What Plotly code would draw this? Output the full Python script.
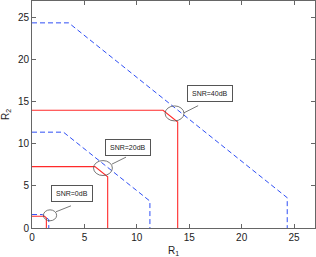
import plotly.graph_objects as go

# Capacity region boundaries (outer = dashed blue, inner = solid red)
snr0_outer_x = [0, 1.0, 1.6, 1.6]
snr0_outer_y = [1.6, 1.6, 1.0, 0]
snr0_inner_x = [0, 1.2, 1.37, 1.37]
snr0_inner_y = [1.4, 1.4, 1.2, 0]

snr20_outer_x = [0, 3.0, 11.25, 11.25]
snr20_outer_y = [11.4, 11.4, 3.2, 0]
snr20_inner_x = [0, 6.0, 7.22, 7.22]
snr20_inner_y = [7.3, 7.3, 6.1, 0]

snr40_outer_x = [0, 3.5, 24.35, 24.35]
snr40_outer_y = [24.4, 24.4, 3.6, 0]
snr40_inner_x = [0, 12.5, 13.9, 13.9]
snr40_inner_y = [14.0, 14.0, 12.6, 0]

labels = ["SNR=0dB", "SNR=20dB", "SNR=40dB"]
label_x = [3.8, 9.2, 17.0]
label_y = [4.05, 9.6, 16.0]
ell_cx = [1.72, 6.77, 13.6]
ell_cy = [1.51, 7.13, 13.63]
ell_rx = [0.63, 0.9, 0.9]
ell_ry = [0.65, 0.89, 0.89]
lead_x0 = [2.29, 7.63, 14.5]
lead_y0 = [1.93, 7.6, 13.7]
lead_x1 = [3.72, 8.97, 15.85]
lead_y1 = [2.64, 8.43, 14.55]

blue = "#2f4ff5"
red = "#ff2a2a"

fig = go.Figure()
for ox, oy, ix, iy in [
    (snr0_outer_x, snr0_outer_y, snr0_inner_x, snr0_inner_y),
    (snr20_outer_x, snr20_outer_y, snr20_inner_x, snr20_inner_y),
    (snr40_outer_x, snr40_outer_y, snr40_inner_x, snr40_inner_y),
]:
    fig.add_trace(go.Scatter(x=ox, y=oy, mode="lines",
                             line=dict(color=blue, width=1, dash="5px,3px"),
                             showlegend=False, hoverinfo="skip"))
    fig.add_trace(go.Scatter(x=ix, y=iy, mode="lines",
                             line=dict(color=red, width=1.1),
                             showlegend=False, hoverinfo="skip"))

shapes = []
annotations = []
for i in range(3):
    shapes.append(dict(type="circle", xref="x", yref="y",
                       x0=ell_cx[i] - ell_rx[i], x1=ell_cx[i] + ell_rx[i],
                       y0=ell_cy[i] - ell_ry[i], y1=ell_cy[i] + ell_ry[i],
                       line=dict(color="#555555", width=0.8)))
    shapes.append(dict(type="line", xref="x", yref="y",
                       x0=lead_x0[i], y0=lead_y0[i], x1=lead_x1[i], y1=lead_y1[i],
                       line=dict(color="#555555", width=0.8)))
    annotations.append(dict(x=label_x[i], y=label_y[i], xref="x", yref="y",
                            text=labels[i], showarrow=False,
                            font=dict(family="Liberation Sans, Arial", size=7, color="#222222"),
                            bordercolor="#555555", borderwidth=1, borderpad=4,
                            bgcolor="white"))

axis_common = dict(
    range=[0, 27], showgrid=False, zeroline=False, automargin=False,
    ticks="inside", ticklen=4, tickcolor="#666666",
    showline=True, linecolor="#666666", linewidth=1, mirror="ticks",
    tickfont=dict(family="Liberation Sans, Arial", size=10, color="#222222"),
    tickvals=[0, 5, 10, 15, 20, 25],
)

fig.update_layout(
    width=316, height=257,
    margin=dict(l=32, r=1, t=1, b=29),
    plot_bgcolor="white", paper_bgcolor="white",
    xaxis=dict(**axis_common,
               title=dict(text="R<sub>1</sub>",
                          font=dict(family="Liberation Sans, Arial", size=10, color="#222222"))),
    yaxis=dict(**axis_common,
               title=dict(text="R<sub>2</sub>",
                          font=dict(family="Liberation Sans, Arial", size=10, color="#222222"))),
    shapes=shapes,
    annotations=annotations,
)

fig.write_html(
    "out.html",
    config={"displayModeBar": False},
    post_script="document.body.style.margin='0';document.body.style.padding='0';document.body.style.overflow='hidden';",
)
